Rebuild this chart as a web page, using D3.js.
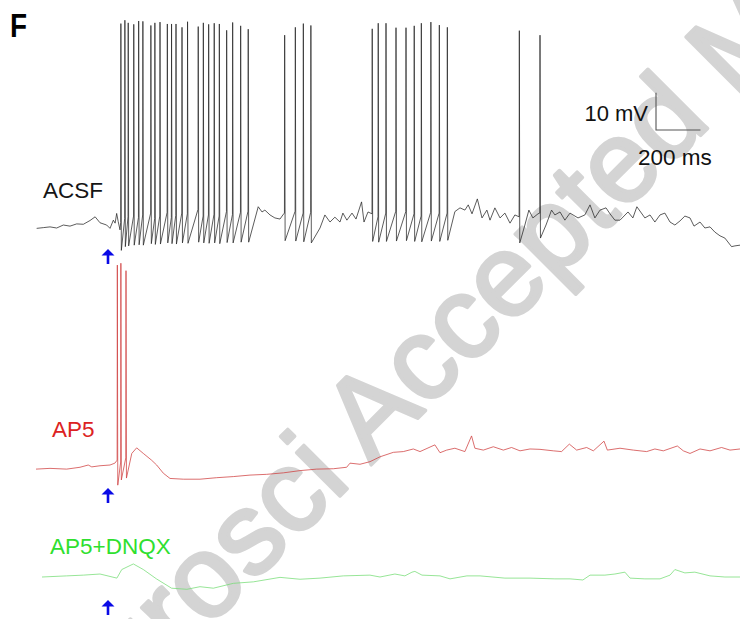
<!DOCTYPE html>
<html>
<head>
<meta charset="utf-8">
<script src="https://cdn.jsdelivr.net/npm/d3@7/dist/d3.min.js"></script>
<style>
  html, body { margin: 0; padding: 0; background: #fff; }
  svg { display: block; }
  text { font-family: "Liberation Sans", Arial, Helvetica, sans-serif; }
</style>
</head>
<body>
<svg id="chart" width="740" height="619"></svg>
<script>
// Whole-cell current-clamp recordings (time in ms, membrane potential in mV)
// Stimulus onset for all three conditions
const stimTime = 324;

// ACSF: subthreshold segments [t, mV]
const acsfBase = [
  [3, -60.1], [33, -59.9], [63, -59.7], [93, -60.0], [123, -59.2], [153, -59.5],
  [183, -58.9], [213, -59.0], [243, -58.0], [266, -57.0], [288, -58.6], [318, -59.2],
  [333, -60.1], [348, -57.9], [356, -58.7], [363, -56.1], [370, -58.3], [378, -60.5],
  [1000, -54.3], [1017, -55.7], [1030, -55.2], [1053, -56.5], [1075, -57.3], [1098, -57.6], [1111, -56.5],
  [1278, -60.0], [1300, -56.5], [1323, -58.4], [1345, -57.1], [1368, -58.4], [1381, -56.0],
  [1399, -57.9], [1422, -56.0], [1440, -57.6], [1465, -53.0], [1476, -58.4], [1494, -55.7],
  [1885, -55.6], [1908, -54.6], [1930, -55.2], [1945, -53.8], [1962, -56.2], [1986, -52.2],
  [2007, -57.3], [2029, -55.2], [2043, -57.9], [2065, -54.6], [2088, -57.3], [2110, -56.0],
  [2133, -58.7], [2155, -56.5],
  [2200, -59.2], [2218, -55.2], [2236, -57.3], [2259, -56.2],
  [2295, -59.2], [2320, -55.2], [2335, -56.5], [2358, -55.7], [2380, -57.9], [2403, -56.0],
  [2439, -57.3], [2470, -56.5], [2493, -53.8], [2515, -57.3], [2538, -55.2], [2565, -54.6],
  [2583, -56.2], [2605, -57.9], [2628, -57.9], [2664, -55.7], [2686, -57.3], [2704, -54.3],
  [2740, -57.3], [2763, -56.5], [2785, -58.4], [2808, -56.5], [2830, -56.0], [2853, -58.4],
  [2875, -59.2], [2898, -58.1], [2920, -56.8], [2943, -57.3], [2961, -59.5], [2988, -58.4],
  [3010, -60.0], [3033, -59.7], [3055, -61.1], [3078, -62.1], [3100, -62.7], [3130, -65.0],
  [3145, -64.8], [3168, -64.6]
];

// ACSF action potentials: [time, threshold, peak, trough]
const acsfSpikes = [
  [382, -58.5, -5.2, -66.0], [400, -57.5, -4.3, -65.0], [415, -57.0, -5.0, -64.8],
  [440, -56.8, -5.4, -64.6], [462, -57.2, -4.5, -64.5], [481, -56.5, -4.6, -64.6],
  [517, -56.0, -5.7, -64.2], [535, -57.5, -5.0, -64.4], [558, -56.8, -4.8, -64.3],
  [591, -55.8, -5.3, -64.0], [610, -57.2, -5.3, -64.2], [630, -56.6, -5.3, -64.3],
  [657, -56.0, -6.2, -64.0], [682, -56.2, -4.7, -64.1], [730, -55.0, -6.0, -63.8],
  [753, -56.8, -5.0, -64.0], [777, -56.5, -5.4, -64.1], [802, -56.3, -5.1, -64.0],
  [825, -56.8, -5.3, -64.2], [858, -55.6, -7.0, -63.9], [885, -56.4, -4.9, -64.0],
  [921, -55.8, -5.8, -63.8], [955, -55.5, -6.7, -63.8],
  [1119, -56.0, -8.3, -63.4], [1167, -55.5, -6.2, -63.5], [1203, -56.0, -5.2, -63.7],
  [1237, -55.8, -5.7, -64.0],
  [1513, -56.2, -6.6, -63.6], [1540, -57.0, -5.1, -63.8], [1575, -56.0, -5.1, -63.6],
  [1620, -55.5, -6.3, -63.5], [1665, -55.6, -6.3, -63.4], [1702, -56.2, -5.8, -63.6],
  [1734, -56.8, -5.1, -63.7], [1777, -55.8, -4.8, -63.5], [1815, -56.0, -5.6, -63.6],
  [1851, -56.0, -6.2, -63.3],
  [2175, -57.0, -7.1, -64.0], [2268, -56.0, -8.3, -62.7]
];

// AP5: subthreshold trace [t, mV]
const ap5Base = [
  [0, -60.3], [63, -60.1], [138, -60.3], [198, -59.8], [235, -59.2], [251, -59.7],
  [288, -59.4], [333, -59.2], [355, -58.7],
  [431, -56.1], [453, -54.6], [483, -56.1], [520, -57.9], [543, -59.2], [573, -61.4],
  [603, -62.8], [663, -63.0], [738, -63.0], [813, -62.6], [888, -62.3], [963, -61.9],
  [1038, -61.7], [1113, -61.3], [1188, -60.7], [1263, -60.3], [1338, -60.2], [1398, -59.8],
  [1413, -58.7], [1458, -59.0], [1503, -58.3], [1548, -57.0], [1608, -55.8], [1653, -55.6],
  [1698, -54.9], [1728, -55.6], [1795, -53.8], [1818, -55.9], [1848, -55.2], [1885, -54.7],
  [1930, -55.6], [1960, -51.4], [1975, -54.7], [2013, -55.2], [2058, -54.3], [2103, -55.2],
  [2140, -54.5], [2178, -55.4], [2223, -54.9], [2268, -55.0], [2328, -55.4], [2365, -55.6],
  [2400, -53.6], [2433, -55.2], [2478, -54.5], [2508, -55.4], [2556, -52.8], [2571, -55.2],
  [2628, -54.7], [2688, -55.2], [2748, -55.6], [2785, -54.9], [2823, -55.4], [2886, -54.1],
  [2913, -55.4], [2943, -56.1], [2988, -54.9], [3033, -55.4], [3085, -54.5], [3123, -55.2],
  [3168, -54.9]
];

// AP5 action potentials: [time, threshold, peak, trough]
const ap5Spikes = [
  [366, -57.9, -5.6, -64.6], [382, -58.4, -5.1, -63.2], [405, -57.3, -7.1, -62.7]
];

// AP5 + DNQX: subthreshold trace only [t, mV]
const dnqxBase = [
  [27, -60.0], [138, -59.7], [213, -59.5], [288, -59.2], [364, -60.3], [386, -58.0],
  [438, -56.5], [483, -58.0], [542, -60.5], [610, -63.0], [679, -63.3], [738, -62.6],
  [798, -63.0], [888, -61.7], [978, -61.3], [1098, -60.1], [1188, -60.6], [1278, -60.3],
  [1383, -59.7], [1503, -59.5], [1548, -60.0], [1615, -59.2], [1660, -59.7], [1692, -58.7],
  [1705, -58.5], [1737, -59.5], [1818, -59.7], [1863, -60.5], [1939, -59.7], [1998, -59.7],
  [2110, -60.3], [2223, -60.3], [2335, -60.5], [2403, -60.5], [2461, -60.8], [2493, -59.5],
  [2560, -59.5], [2605, -59.2], [2650, -58.7], [2673, -60.3], [2740, -60.5], [2808, -60.5],
  [2853, -59.5], [2875, -58.0], [2920, -58.9], [2965, -58.7], [3033, -59.7], [3100, -60.0],
  [3168, -60.0]
];

// Condition labels and calibration bar
const traceNames = ["ACSF", "AP5", "AP5+DNQX"];
const scaleBarMv = 10;
const scaleBarMs = 200;

const svg = d3.select("#chart");

// Shared time axis; every trace uses the same mV gain
const x = d3.scaleLinear().domain([0, 3168]).range([36, 740]);
const pxPerMv = 3.73;
const makeY = (restPx) => d3.scaleLinear().domain([-60, 0]).range([restPx, restPx - 60 * pxPerMv]);

const rows = [
  { name: traceNames[0], base: acsfBase, spikes: acsfSpikes, rest: 228, color: "#262626", labelColor: "#151515", labelX: 43, labelY: 198, arrowTop: 249 },
  { name: traceNames[1], base: ap5Base, spikes: ap5Spikes, rest: 468, color: "#cf3d3d", labelColor: "#dc2222", labelX: 52, labelY: 437, arrowTop: 488 },
  { name: traceNames[2], base: dnqxBase, spikes: [], rest: 577, color: "#74dc74", labelColor: "#2fe02f", labelX: 50, labelY: 554, arrowTop: 600 }
];

// Background watermark
svg.append("text")
  .attr("transform", "translate(-12,848) rotate(-45)")
  .attr("font-size", 116)
  .attr("fill", "#d4d4d4")
  .attr("stroke", "#d4d4d4")
  .attr("stroke-width", 3.5)
  .attr("stroke-linejoin", "round")
  .text("JNeurosci Accepted Manuscript");

// Merge subthreshold samples with spike waveforms into one ordered series
function buildSeries(base, spikes) {
  const pts = base.map(d => ({ t: d[0], v: d[1] }));
  spikes.forEach(s => {
    pts.push({ t: s[0] - 1, v: s[1] });
    pts.push({ t: s[0], v: s[2] });
    pts.push({ t: s[0] + 2, v: s[3] });
  });
  return pts.sort((a, b) => a.t - b.t);
}

rows.forEach(r => {
  const y = makeY(r.rest);
  const line = d3.line().x(d => x(d.t)).y(d => y(d.v));
  svg.append("path")
    .datum(buildSeries(r.base, r.spikes))
    .attr("d", line)
    .attr("fill", "none")
    .attr("stroke", r.color)
    .attr("stroke-width", 0.75)
    .attr("stroke-linejoin", "round");

  svg.append("text")
    .attr("x", r.labelX).attr("y", r.labelY)
    .attr("font-size", 22.5)
    .attr("fill", r.labelColor)
    .text(r.name);

  // stimulus arrow
  const ax = x(stimTime), at = r.arrowTop;
  svg.append("path")
    .attr("d", `M${ax},${at} L${ax + 6.5},${at + 6.5} L${ax + 1.3},${at + 6.5} L${ax + 1.3},${at + 15} L${ax - 1.3},${at + 15} L${ax - 1.3},${at + 6.5} L${ax - 6.5},${at + 6.5} Z`)
    .attr("fill", "#0a0ae6");
});

// Calibration bar
const sbX = 656, sbY = 130;
const sbLen = x(scaleBarMs) - x(0);
svg.append("path")
  .attr("d", `M${sbX},${sbY - scaleBarMv * pxPerMv} L${sbX},${sbY} L${sbX + sbLen},${sbY}`)
  .attr("fill", "none").attr("stroke", "#555").attr("stroke-width", 1.1);
svg.append("text").attr("x", 648).attr("y", 121).attr("text-anchor", "end")
  .attr("font-size", 22).attr("fill", "#111").text(scaleBarMv + " mV");
svg.append("text").attr("x", 638).attr("y", 165)
  .attr("font-size", 22.5).attr("fill", "#111").text(scaleBarMs + " ms");

// Panel letter
svg.append("text")
  .attr("transform", "translate(10,37) scale(0.82,1)")
  .attr("font-size", 34).attr("font-weight", "bold").attr("fill", "#000")
  .text("F");
</script>
</body>
</html>
